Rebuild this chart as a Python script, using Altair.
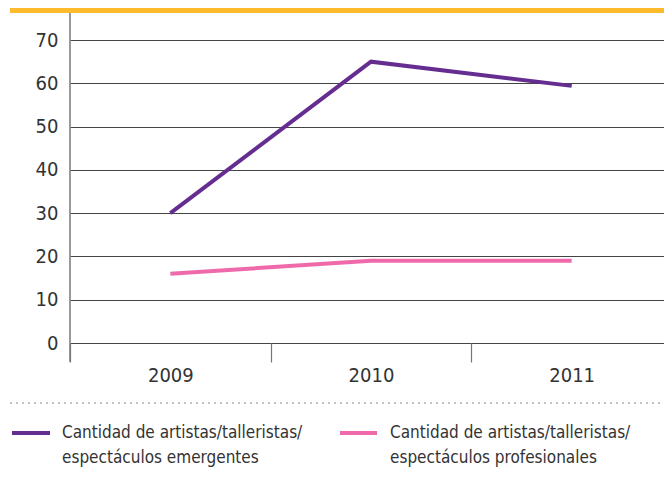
import altair as alt
import pandas as pd

years = ["2009", "2010", "2011"]
emergentes = [30, 65, 59.4]
profesionales = [16, 19, 19]
series_names = ["Cantidad de artistas/talleristas/\nespectáculos emergentes",
                "Cantidad de artistas/talleristas/\nespectáculos profesionales"]
colors = ["#662D91", "#EF6AAB"]
y_ticks = [0, 10, 20, 30, 40, 50, 60, 70]

FONT = "Liberation Sans Narrow, DejaVu Sans Condensed, Roboto"

rows = []
for name, vals in zip(series_names, [emergentes, profesionales]):
    for yr, v in zip(years, vals):
        rows.append({"year": yr, "value": v, "series": name})
df = pd.DataFrame(rows)

one = pd.DataFrame({"d": [0]})

lines = alt.Chart(df).mark_line(strokeWidth=4).encode(
    x=alt.X("year:N", sort=years, title=None,
            scale=alt.Scale(paddingInner=0, paddingOuter=0, range=[0, 602]),
            axis=alt.Axis(tickBand="extent", tickSize=19, tickColor="#777777", tickWidth=1.2,
                          domain=False, labelAngle=0, labelFontSize=20, labelColor="#333333",
                          labelFont=FONT, labelPadding=3, grid=False)),
    y=alt.Y("value:Q", title=None,
            scale=alt.Scale(domain=[0, 70], nice=False),
            axis=alt.Axis(values=y_ticks, grid=True, gridColor="#444444", gridWidth=1,
                          domain=False, ticks=False, labelPadding=12, labelFontSize=20,
                          labelColor="#333333", labelFont=FONT)),
    color=alt.Color("series:N", scale=alt.Scale(domain=series_names, range=colors), legend=None),
    detail="series:N",
)

orange = alt.Chart(one).mark_rect(color="#FDBA2C").encode(
    x=alt.value(-60), x2=alt.value(620), y=alt.value(-40), y2=alt.value(-27))

yline = alt.Chart(one).mark_rule(color="#777777", strokeWidth=1.5).encode(
    x=alt.value(0), y=alt.value(-27), y2=alt.value(322))

dotted = alt.Chart(one).mark_rule(color="#888888", strokeWidth=1, strokeDash=[2, 4]).encode(
    x=alt.value(-60), x2=alt.value(610), y=alt.value(363))

legend_layers = []
sym_x = [(-58, -20), (270, 307)]
txt_x = [-8, 320]
for i, name in enumerate(series_names):
    legend_layers.append(alt.Chart(one).mark_rule(color=colors[i], strokeWidth=4).encode(
        x=alt.value(sym_x[i][0]), x2=alt.value(sym_x[i][1]), y=alt.value(393)))
    legend_layers.append(alt.Chart(one).mark_text(
        align="left", baseline="middle", fontSize=17, font=FONT, color="#333333",
        lineBreak="\n", lineHeight=25).encode(
        x=alt.value(txt_x[i]), y=alt.value(393), text=alt.value(name)))

chart = alt.layer(orange, yline, lines, dotted, *legend_layers).properties(
    width=594, height=303,
    autosize=alt.AutoSizeParams(type="none"),
    padding={"left": 62, "top": 32, "right": 0, "bottom": 144},
).configure_view(stroke=None)

chart.save("out.html", embed_options={"renderer": "svg", "actions": False})
